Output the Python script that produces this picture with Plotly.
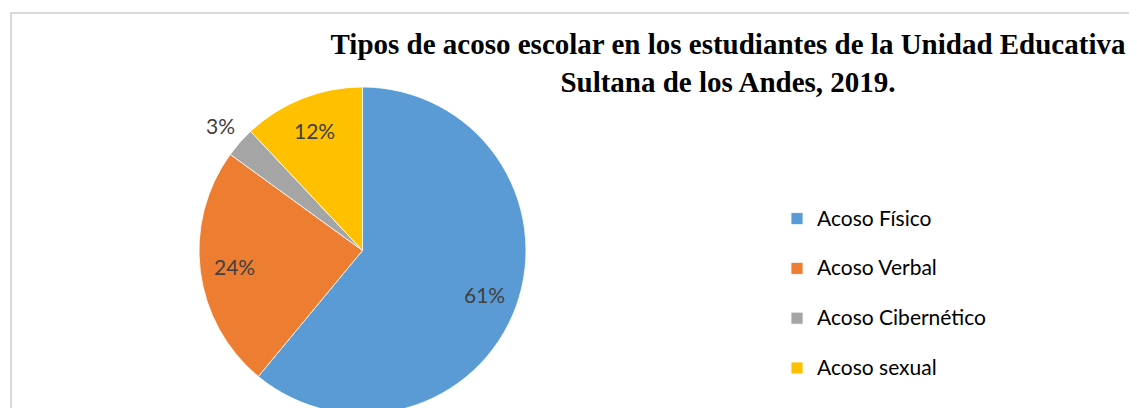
import math
import plotly.graph_objects as go

categories = ["Acoso Físico", "Acoso Verbal", "Acoso Cibernético", "Acoso sexual"]
values = [61, 24, 3, 12]
colors = ["#5B9BD5", "#ED7D31", "#A5A5A5", "#FFC000"]
label_outside = [False, False, True, False]
title_text = "<b>Tipos de acoso escolar en los estudiantes de la Unidad Educativa<br>Sultana de los Andes, 2019.</b>"

W, H = 1137, 408

# pie geometry in figure pixels (page body adds an 8px offset)
CX, CY, R = 354.5, 242.5, 163.5


def px(x):
    return x / W


def py(y):
    return 1 - y / H


# legend labels: blank first line reproduces the wide item spacing
legend_labels = ["\u00a0<br><span style='font-size:21px'>" + c + "</span>" for c in categories]

fig = go.Figure()
fig.add_trace(go.Pie(
    labels=legend_labels,
    values=values,
    sort=False,
    direction="clockwise",
    rotation=0,
    marker=dict(colors=colors, line=dict(color="white", width=0.8)),
    textinfo="none",
    domain=dict(x=[px(CX - R), px(CX + R)], y=[py(CY + R), py(CY - R)]),
    hovertemplate="%{value}%<extra></extra>",
    showlegend=True,
))

# data labels placed along each slice's mid-angle
total = sum(values)
annotations = []
cum = 0
for v, outside in zip(values, label_outside):
    mid = (cum + v / 2) / total * 2 * math.pi
    cum += v
    dist = R * (1.16 if outside else 0.79)
    lx = CX + dist * math.sin(mid)
    ly = CY - dist * math.cos(mid)
    annotations.append(dict(
        x=px(lx), y=py(ly), xref="paper", yref="paper",
        text=f"{round(v / total * 100)}%", showarrow=False,
        xanchor="center", yanchor="middle",
        font=dict(family="Lato, Noto Sans, sans-serif", size=21, color="#404040"),
    ))

fig.update_layout(
    width=W, height=H,
    margin=dict(l=0, r=0, t=0, b=0),
    paper_bgcolor="white",
    plot_bgcolor="white",
    title=dict(
        text=title_text,
        font=dict(family="Liberation Serif, Times New Roman, serif", size=29, color="black"),
        x=px(720), xanchor="center", xref="paper",
        y=py(46), yanchor="top", yref="container",
    ),
    legend=dict(
        x=px(769), xanchor="left",
        y=py(169), yanchor="top",
        valign="bottom",
        font=dict(family="Lato, Noto Sans, sans-serif", size=18, color="#000000"),
        bgcolor="rgba(0,0,0,0)",
    ),
    annotations=annotations,
    shapes=[dict(
        type="rect", xref="paper", yref="paper",
        x0=px(3), x1=1.05, y0=-0.1, y1=py(5),
        line=dict(color="#D9D9D9", width=2),
        fillcolor="rgba(0,0,0,0)",
        layer="below",
    )],
)

fig.write_html("out.html")
